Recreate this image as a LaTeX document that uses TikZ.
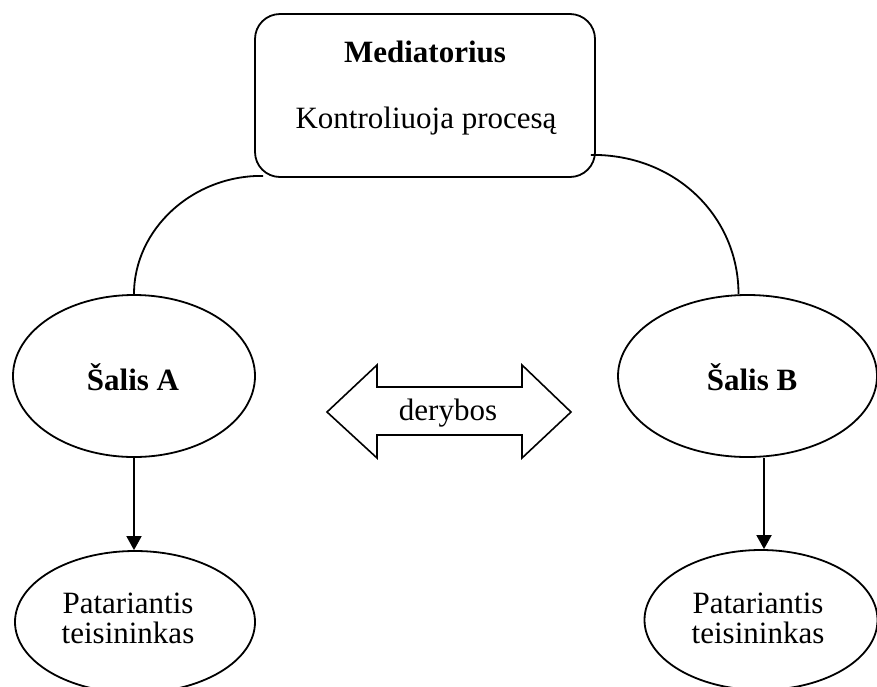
\documentclass[tikz,border=0pt]{standalone}
\usepackage{fontspec}
\setmainfont{Liberation Serif}
\usetikzlibrary{shapes.geometric,arrows.meta}
\begin{document}
\begin{tikzpicture}[x=1pt,y=-1pt,
  line width=1.8pt,
  every node/.style={font=\fontsize{31}{27}\selectfont, inner sep=0pt},
  oval/.style={ellipse, draw},
  txt/.style={anchor=base},
  arr/.style={-{Triangle[length=14pt,width=15pt]}}]
\useasboundingbox (0,0) rectangle (877,686);
% Mediator box
\node[draw, rounded corners=25pt, minimum width=340pt, minimum height=163pt] (med) at (425,95.5) {};
\node[txt] (medT1) at (425,62) {\bfseries Mediatorius};
\node[txt] (medT2) at (426,128) {Kontroliuoja procesą};
% parties
\node[oval, minimum width=242pt, minimum height=162pt] (A) at (134,376) {};
\node[txt] (AT) at (133,390) {\bfseries Šalis A};
\node[oval, minimum width=259pt, minimum height=162pt] (B) at (747.5,376) {};
\node[txt] (BT) at (752,390) {\bfseries Šalis B};
% advisers
\node[oval, minimum width=240pt, minimum height=142pt] (PA) at (135,622) {};
\node[txt] (PAT1) at (128,613) {Patariantis};
\node[txt] (PAT2) at (128,643) {teisininkas};
\node[oval, minimum width=233pt, minimum height=140pt] (PB) at (761,620) {};
\node[txt] (PBT1) at (758,613) {Patariantis};
\node[txt] (PBT2) at (758,643) {teisininkas};
% arcs
\draw (A.north) .. controls (134,229) and (193,175) .. ([xshift=9pt,yshift=2pt]med.south west);
\draw ([xshift=-5pt,yshift=23pt]med.south east) .. controls (675,154) and ([xshift=-9pt,yshift=78pt]B.north) .. ([xshift=-9pt]B.north);
% arrows down
\draw[arr] (A.south) -- (A.south |- PA.north);
\draw[arr] ([xshift=16.5pt]B.south) -- ([xshift=16.5pt]B.south |- PB.north);
% double arrow
\node[txt] (der) at (448,420) {derybos};
\draw[line width=1.6pt, line join=miter] (327,412) -- (377,365) -- (377,387) -- (522,387) -- (522,365) -- (571,412) -- (522,458) -- (522,435) -- (377,435) -- (377,458) -- cycle;
\end{tikzpicture}
\end{document}
